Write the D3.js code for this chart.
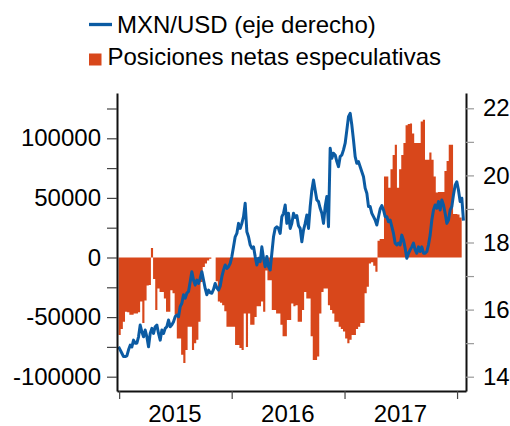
<!DOCTYPE html>
<html>
<head>
<meta charset="utf-8">
<script src="https://cdn.jsdelivr.net/npm/d3@7"></script>
<style>
  body { margin: 0; background: white; }
  svg { display: block; font-family: "Liberation Sans", Arial, sans-serif; }
</style>
</head>
<body>
<div id="container"></div>
<script>

// weekly net speculative positions (contracts), weeks starting 2014-12-30
let posStart = new Date(2014, 11, 30)
let positions = [
    -65000,-60000,-54000,-45500,-46000,-48000,-48000,-47000,-47000,-46000,
    -37000,-55000,-36000,-23500,-23000,8000,-18000,-44000,-26000,-29000,
    -29000,-34500,-45500,-45500,-27500,-30000,-48000,-68000,-68000,-81500,
    -88500,-77500,-58000,-58000,-77500,-72000,-69000,-54000,-20500,-8000,
    -5000,-2500,-1000,0,0,-20000,-37000,-38000,-40000,-45000,
    -58000,-58000,-58000,-58000,-73500,-73500,-76000,-77500,-47000,-75000,
    -47000,-56500,-56500,-50000,-41000,-41000,-37000,-45500,-11000,-19000,
    -19000,-44000,-44000,-47000,-47000,-56500,-66000,-66000,-52500,-52500,
    -38500,-41000,-40000,-54000,-54000,-44000,-29000,-34500,-34500,-66000,
    -86000,-86000,-83000,-47000,-29000,-26000,-26000,-40000,-44000,-47000,
    -54000,-54000,-58000,-60000,-62000,-68000,-72000,-69000,-65000,-65000,
    -60000,-58000,-55000,-55000,-30000,-24500,-5000,-4000,-7000,-12000,
    14000,15500,15500,68000,68000,58500,74000,86000,94500,58500,
    74000,86000,96000,111000,112000,112500,104000,96000,96000,96000,
    114000,115500,82000,82000,88000,82000,68000,54500,55000,55000,
    55000,72500,81000,94500,94500,36500,36500,36000,33500
]

// MXN per USD, sampled every ~5.4 days from 2014-12-30
let fxStart = new Date(2014, 11, 30)
let fxStepDays = 5.405
let mxnusd = [
    14.89,14.80,14.70,14.60,14.60,14.62,14.80,14.94,14.89,15.09,
    15.00,15.00,15.19,15.54,15.34,15.19,15.39,15.19,14.89,15.29,
    15.44,15.29,15.49,15.54,15.29,15.09,15.39,15.29,15.44,15.49,
    15.69,15.49,15.55,15.64,15.79,15.84,15.79,16.09,16.19,16.44,
    16.34,16.49,16.54,16.83,17.13,16.88,16.73,16.88,16.78,16.93,
    17.13,16.88,16.63,16.44,16.58,16.50,16.49,16.60,16.78,16.65,
    16.58,16.70,16.98,17.18,17.33,17.23,17.28,17.38,17.58,17.87,
    18.17,18.27,18.57,18.42,18.57,18.77,19.17,18.32,18.17,17.93,
    17.83,17.87,17.58,17.33,17.53,17.43,17.87,17.53,17.28,17.58,
    17.28,17.18,17.68,18.17,18.42,18.47,18.42,18.27,18.77,18.87,
    19.12,18.57,18.87,18.42,18.57,18.87,18.75,18.80,18.50,18.42,
    18.02,18.37,18.57,18.82,18.42,19.07,19.56,19.86,19.56,19.27,
    19.22,19.02,18.87,18.57,19.07,19.37,18.47,20.81,20.51,20.66,
    20.61,20.41,20.26,20.56,20.61,20.76,20.96,21.35,21.75,21.85,
    21.50,21.05,20.56,20.36,20.41,20.26,20.11,19.96,19.62,19.47,
    19.07,19.07,18.87,18.77,18.67,18.52,18.77,19.00,19.10,18.97,
    18.77,18.77,18.62,18.67,18.47,18.27,17.98,17.93,17.98,17.93,
    18.22,18.07,17.83,17.53,17.68,17.78,17.87,17.98,17.78,17.68,
    17.87,17.73,17.87,17.68,17.68,17.73,17.93,18.22,18.67,18.97,
    19.12,19.02,19.22,18.97,19.27,19.12,18.87,18.57,18.67,18.97,
    19.07,19.42,19.71,19.81,19.56,19.22,19.32,18.65
]

let years = [2015, 2016, 2017]
let leftTicks = d3.range(-100000, 125001, 25000)
let rightTicks = d3.range(14, 22.01, 1)
let legendLabels = ["MXN/USD (eje derecho)", "Posiciones netas especulativas"]

let blue = "#0b5ba3"
let orange = "#d8471b"
let dayMs = 24 * 3600 * 1000

let viz = d3.select("#container").append("svg")
    .attr("width", 510)
    .attr("height", 426)

let x = d3.scaleTime()
    .domain([new Date(2014, 11, 25), new Date(2018, 0, 30)])
    .range([117, 466])
let yL = d3.scaleLinear().domain([-112000, 138000]).range([391, 93])
let yR = d3.scaleLinear().domain([13.574, 22.456]).range([391, 93])

let posData = positions.map((v, i) => ({
    date: d3.timeDay.offset(posStart, i * 7),
    value: v
}))
// closing step so the last week keeps its width
posData.push({
    date: d3.timeDay.offset(posStart, positions.length * 7),
    value: positions[positions.length - 1]
})
let fxData = mxnusd.map((v, i) => ({
    date: new Date(fxStart.getTime() + i * fxStepDays * dayMs),
    value: v
}))

// bars, drawn as one stepped area so weeks sit flush
viz.append("path")
    .datum(posData)
    .attr("fill", orange)
    .attr("d", d3.area()
        .curve(d3.curveStepAfter)
        .x(d => x(d.date))
        .y0(yL(0))
        .y1(d => yL(d.value)))

// line
viz.append("path")
    .datum(fxData)
    .attr("fill", "none")
    .attr("stroke", blue)
    .attr("stroke-width", 3)
    .attr("stroke-linejoin", "round")
    .attr("d", d3.line().x(d => x(d.date)).y(d => yR(d.value)))

// axes
let leftAxis = viz.append("g")
    .attr("transform", "translate(117,0)")
    .call(d3.axisLeft(yL).tickValues(leftTicks).tickSize(10).tickSizeOuter(0).tickPadding(6)
        .tickFormat(d => d % 50000 === 0 ? String(d) : ""))
let rightAxis = viz.append("g")
    .attr("transform", "translate(466,0)")
    .call(d3.axisRight(yR).tickValues(rightTicks).tickSize(8).tickSizeOuter(0).tickPadding(9)
        .tickFormat(d => d % 2 === 0 ? String(d) : ""))
let bottomAxis = viz.append("g")
    .attr("transform", "translate(0,391)")
    .call(d3.axisBottom(x).tickValues(years.concat([2018]).map(y => new Date(y, 0, 1)))
        .tickSize(8).tickSizeOuter(0).tickFormat(""))

for (let ax of [leftAxis, rightAxis, bottomAxis]) {
    ax.select(".domain").attr("stroke", "#111").attr("stroke-width", 2)
    ax.selectAll(".tick line").attr("stroke", "#444").attr("stroke-width", 1.2)
    ax.selectAll(".tick text")
        .attr("fill", "black")
        .style("font-size", "24px")
        .style("font-family", "'Liberation Sans', Arial, sans-serif")
}
rightAxis.selectAll(".tick line").attr("stroke", "#999")

// year labels centred between ticks
viz.append("g").selectAll("text").data(years).enter()
    .append("text")
    .attr("x", d => x(new Date(d, 6, 1)))
    .attr("y", 422)
    .attr("text-anchor", "middle")
    .style("font-size", "24px")
    .text(d => d)

// legend
let legend = viz.append("g")
legend.append("line")
    .attr("x1", 89).attr("x2", 112)
    .attr("y1", 24.5).attr("y2", 24.5)
    .attr("stroke", blue)
    .attr("stroke-width", 3.3)
legend.append("text")
    .attr("x", 117).attr("y", 33)
    .style("font-size", "24px")
    .text(legendLabels[0])
legend.append("rect")
    .attr("x", 89).attr("y", 53.5)
    .attr("width", 12.5).attr("height", 12)
    .attr("fill", orange)
legend.append("text")
    .attr("x", 107.5).attr("y", 65)
    .style("font-size", "24px")
    .text(legendLabels[1])

</script>
</body>
</html>
